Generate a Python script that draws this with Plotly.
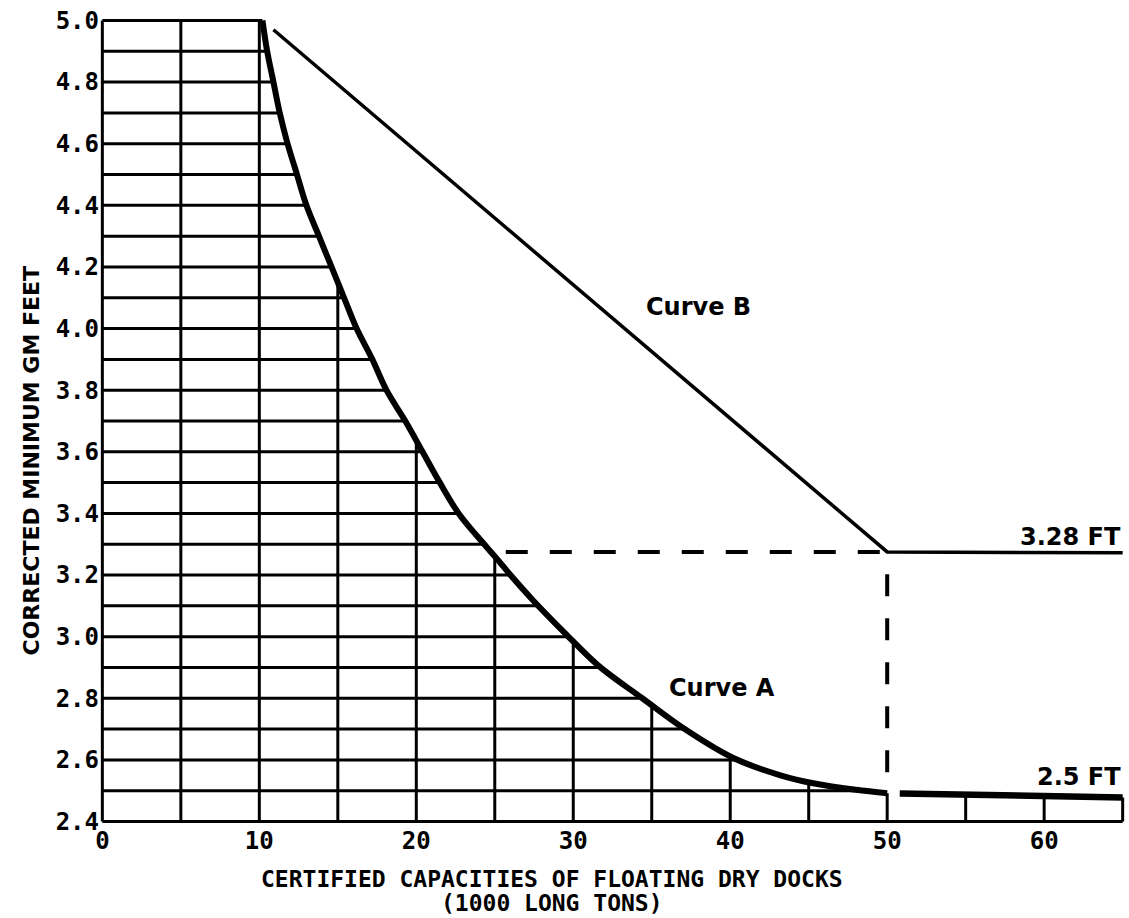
import numpy as np
import plotly.graph_objects as go

# ---------------- data ----------------
# Curve A (thick curve), drawn as two segments with a small gap at 50
curve_a_left_x = [10.2, 10.5, 10.9, 11.3, 11.8, 12.4, 13.0, 13.8, 14.6, 15.4, 16.2,
                  17.2, 18.1, 19.3, 20.4, 21.5, 22.7, 23.9, 25.1, 26.0, 27.4, 29.5,
                  31.6, 34.4, 37.1, 40.2, 43.2, 45.2, 48.0, 50.0]
curve_a_left_y = [5.0, 4.9, 4.8, 4.7, 4.6, 4.5, 4.4, 4.3, 4.2, 4.1, 4.0,
                  3.9, 3.8, 3.7, 3.6, 3.5, 3.4, 3.325, 3.255, 3.2, 3.12, 3.01,
                  2.906, 2.80, 2.70, 2.606, 2.55, 2.525, 2.503, 2.492]
curve_a_right_x = [50.8, 55.0, 60.0, 65.0]
curve_a_right_y = [2.491, 2.487, 2.482, 2.478]

# Curve B (straight line then flat at 3.28 ft)
curve_b_x = [10.9, 50.0, 65.0]
curve_b_y = [4.97, 3.275, 3.272]

# Dashed guide lines
dash_h_x = [25.7, 50.0]
dash_h_y = [3.275, 3.275]
dash_v_x = [50.0, 50.0]
dash_v_y = [2.56, 3.275]

# Axis ticks
x_ticks = [0, 10, 20, 30, 40, 50, 60]
x_tick_labels = ["0", "10", "20", "30", "40", "50", "60"]
y_ticks = [2.4, 2.6, 2.8, 3.0, 3.2, 3.4, 3.6, 3.8, 4.0, 4.2, 4.4, 4.6, 4.8, 5.0]
y_tick_labels = ["2.4", "2.6", "2.8", "3.0", "3.2", "3.4", "3.6", "3.8", "4.0",
                 "4.2", "4.4", "4.6", "4.8", "5.0"]

# Hatch grid levels (clipped under curve A)
grid_x = [0, 5, 10, 15, 20, 25, 30, 35, 40, 45, 50, 55, 60, 65]
grid_y = [2.4, 2.5, 2.6, 2.7, 2.8, 2.9, 3.0, 3.1, 3.2, 3.3, 3.4, 3.5, 3.6, 3.7,
          3.8, 3.9, 4.0, 4.1, 4.2, 4.3, 4.4, 4.5, 4.6, 4.7, 4.8, 4.9, 5.0]

X_MIN, X_MAX, Y_MIN, Y_MAX = 0, 65, 2.4, 5.0

# ---------------- build grid clipped to curve A ----------------
ax = np.array(curve_a_left_x + curve_a_right_x, dtype=float)
ay = np.array(curve_a_left_y + curve_a_right_y, dtype=float)

gx, gy = [], []
for h in grid_y:
    if h >= ay.min():
        xe = float(np.interp(h, ay[::-1], ax[::-1]))
    else:
        xe = X_MAX
    gx += [X_MIN, xe, None]
    gy += [h, h, None]
for v in grid_x:
    top = float(np.interp(v, ax, ay)) if v >= ax[0] else Y_MAX
    gx += [v, v, None]
    gy += [Y_MIN, top, None]

fig = go.Figure()
fig.add_trace(go.Scatter(x=gx, y=gy, mode="lines",
                         line=dict(color="black", width=3), hoverinfo="skip"))
fig.add_trace(go.Scatter(x=curve_a_left_x, y=curve_a_left_y, mode="lines",
                         line=dict(color="black", width=6, shape="spline", smoothing=1.0)))
fig.add_trace(go.Scatter(x=curve_a_right_x, y=curve_a_right_y, mode="lines",
                         line=dict(color="black", width=6.5)))
fig.add_trace(go.Scatter(x=curve_b_x, y=curve_b_y, mode="lines",
                         line=dict(color="black", width=3.5)))
fig.add_trace(go.Scatter(x=dash_h_x, y=dash_h_y, mode="lines",
                         line=dict(color="black", width=4, dash="22px,22px")))
fig.add_trace(go.Scatter(x=dash_v_x, y=dash_v_y, mode="lines",
                         line=dict(color="black", width=4, dash="22px,22px")))

lab_font = dict(family="DejaVu Sans", size=24, color="black", weight="bold")
mono_font = dict(family="DejaVu Sans Mono", size=23, color="black", weight="bold")
ytitle_font = dict(family="DejaVu Sans", size=22, color="black", weight="bold")
tick_font = dict(family="DejaVu Sans Mono", size=24, color="black", weight="bold")

fig.add_annotation(x=37.96, y=4.071, text="Curve B", showarrow=False, font=lab_font)
fig.add_annotation(x=39.5, y=2.834, text="Curve A", showarrow=False, font=lab_font)
fig.add_annotation(x=65, y=3.324, text="3.28 FT", showarrow=False, xanchor="right",
                   font=lab_font)
fig.add_annotation(x=65, y=2.545, text="2.5 FT", showarrow=False, xanchor="right",
                   font=lab_font)

fig.add_annotation(xref="paper", yref="paper", x=0.441, y=-0.068,
                   text="CERTIFIED CAPACITIES OF FLOATING DRY DOCKS",
                   showarrow=False, font=mono_font, yanchor="middle")
fig.add_annotation(xref="paper", yref="paper", x=0.441, y=-0.098,
                   text="(1000 LONG TONS)",
                   showarrow=False, font=mono_font, yanchor="middle")
fig.add_annotation(xref="paper", yref="paper", x=-0.081, y=0.4516,
                   text="CORRECTED MINIMUM GM FEET", textangle=-90,
                   showarrow=False, font=ytitle_font)

fig.update_layout(
    width=1129, height=918,
    margin=dict(l=100, r=4, t=18, b=94, autoexpand=False),
    paper_bgcolor="white", plot_bgcolor="white",
    showlegend=False,
    xaxis=dict(range=[-0.15, 65.15], tickvals=x_ticks, ticktext=x_tick_labels,
               showgrid=False, zeroline=False, showline=False, ticks="",
               automargin=False, tickfont=tick_font),
    yaxis=dict(range=[2.392, 5.008], tickvals=y_ticks, ticktext=y_tick_labels,
               showgrid=False, zeroline=False, showline=False, ticks="",
               automargin=False, tickfont=tick_font),
)

fig.write_html("out.html",
               config={"displayModeBar": False},
               post_script="document.body.style.margin='0';"
                           "document.body.style.overflow='hidden';")
